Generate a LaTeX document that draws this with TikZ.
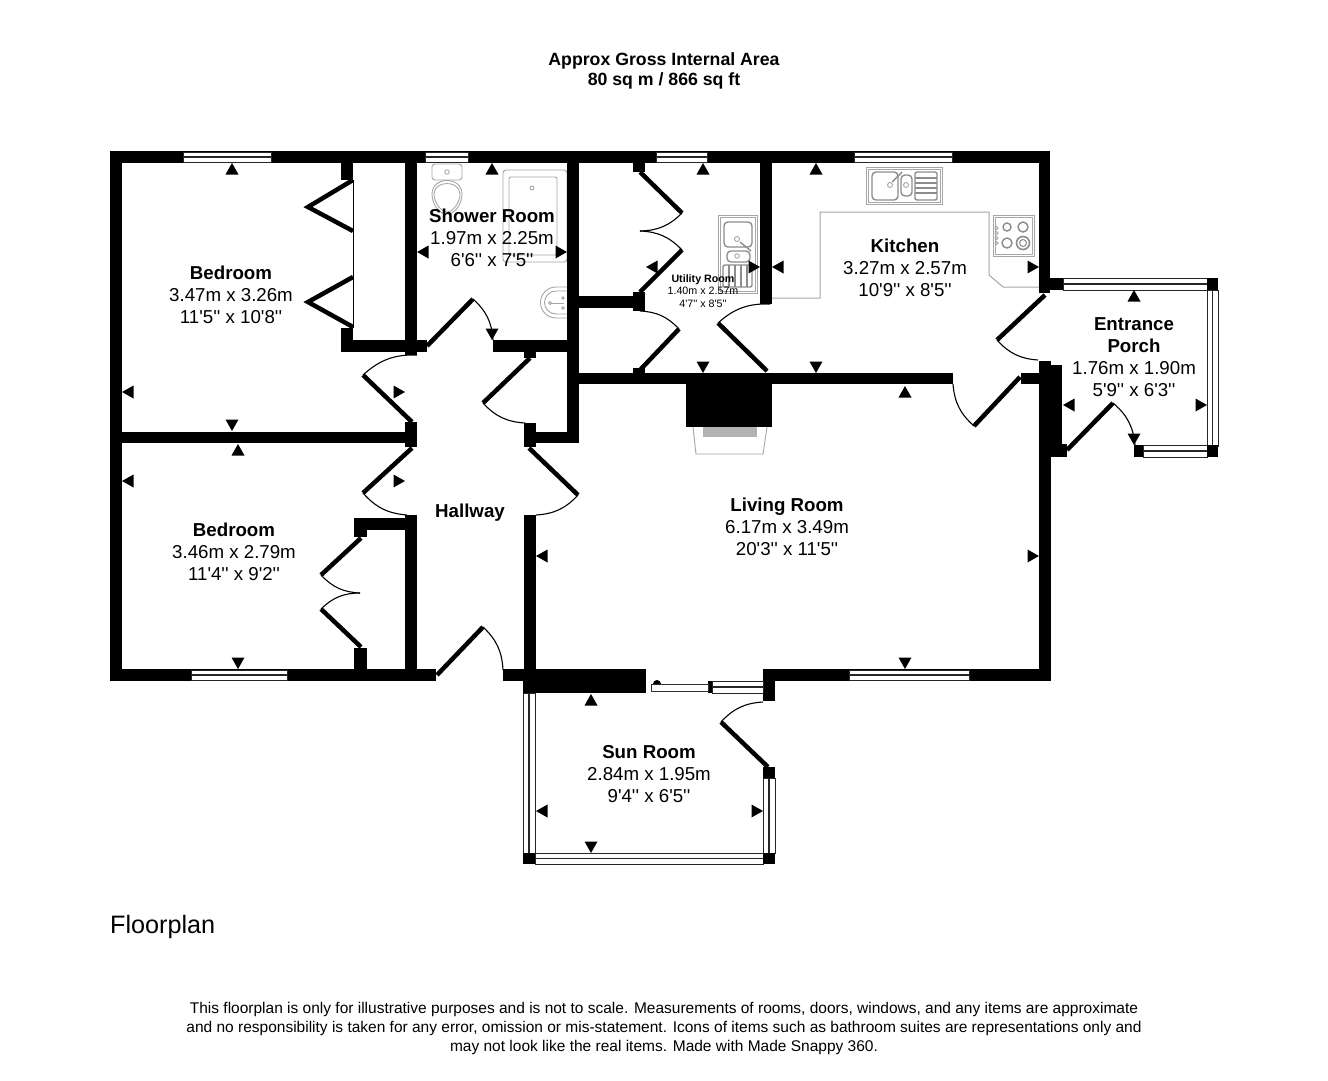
\documentclass[tikz,border=0pt]{standalone}
\usepackage{fontspec}
\setmainfont{Liberation Sans}[Ligatures=TeXOff]
\newcommand{\wl}[4]{\fill[black] (#1,#2) rectangle (#3,#4);}
\newcommand{\hwin}[4]{\draw[winbox] (#1,#2) rectangle (#3,#4);\draw[winmid] (#1,{(#2+#4)/2}) -- (#3,{(#2+#4)/2});}
\newcommand{\vwin}[4]{\draw[winbox] (#1,#2) rectangle (#3,#4);\draw[winmid] ({(#1+#3)/2},#2) -- ({(#1+#3)/2},#4);}
\newcommand{\tup}[2]{\fill[black] (#1,#2) -- ++(-6.5,11.5) -- ++(13,0) -- cycle;}
\newcommand{\tdn}[2]{\fill[black] (#1,#2) -- ++(-6.5,-11.5) -- ++(13,0) -- cycle;}
\newcommand{\tlf}[2]{\fill[black] (#1,#2) -- ++(11.5,-6.5) -- ++(0,13) -- cycle;}
\newcommand{\trt}[2]{\fill[black] (#1,#2) -- ++(-11.5,-6.5) -- ++(0,13) -- cycle;}
\tikzset{
  winbox/.style={draw=black!85,fill=white,line width=.9pt},
  winmid/.style={draw=black!85,line width=1.1pt},
  leaf/.style={draw=black,line width=4.5pt},
  swing/.style={draw=black,line width=1.1pt},
  fix/.style={draw=black!35,line width=.9pt},
  fixdk/.style={draw=black!45,line width=1.4pt},
  room/.style={align=center,inner sep=0pt,font=\fontsize{18.7}{22}\selectfont},
  roomsmall/.style={align=center,inner sep=0pt,font=\fontsize{10.7}{12.6}\selectfont},
  note/.style={align=center,inner sep=0pt,font=\fontsize{15.5}{19.2}\selectfont},
  head/.style={align=center,inner sep=0pt,font=\fontsize{17.7}{20}\selectfont\bfseries},
}
\begin{document}
\begin{tikzpicture}[x=1pt,y=-1pt]
\useasboundingbox (0,0) rectangle (1328,1080);
\fill[white] (0,0) rectangle (1328,1080);

% ---- fixtures ----
% toilet
\draw[fix,rounded corners=3pt] (432,164) rectangle (462,180);
\draw[fix] (447,172) circle (2.2);
\draw[fix] (432,194) .. controls (432,176) and (462,176) .. (462,194) .. controls (462,204) and (455,214) .. (447,214) .. controls (439,214) and (432,204) .. (432,194);
\draw[fix] (434,194) .. controls (434,180) and (460,180) .. (460,194) .. controls (460,202) and (453,212) .. (447,212) .. controls (441,212) and (434,202) .. (434,194);
% shower
\draw[fix,rounded corners=3pt] (503,170) rectangle (567,262);
\draw[fix,rounded corners=2pt] (509,177) rectangle (557,255);
\draw[fix] (532,188) circle (2);
% basin
\draw[fix] (567,287) -- (556,287) arc[start angle=270,end angle=90,radius=15.5] -- (567,318);
\draw[fix] (567,291) -- (556,291) arc[start angle=270,end angle=90,radius=11.5] -- (567,314);
\draw[fix] (550,303) circle (1.6);
\draw[fix] (552,303) -- (564,303);
\draw[fix] (563,298) circle (1.3);
\draw[fix] (563,308) circle (1.3);
% kitchen sink
\draw[fix] (866,167) rectangle (942,204);
\draw[fix] (868,169) rectangle (940,202);
\draw[fixdk,rounded corners=4pt] (872,172) rectangle (898,200);
\draw[fixdk,rounded corners=4pt] (901,175) rectangle (912,196);
\draw[fixdk,rounded corners=2pt] (915,172) rectangle (937,200);
\foreach \yy in {178,183,188,193}{\draw[fixdk] (915,\yy) -- (937,\yy);}
\draw[fix] (890,185) circle (2.5);
\draw[fixdk] (892,182) -- (902,172);
\draw[fix] (906,185) circle (2.5);
% counter
\draw[fix,line width=1pt] (772,298) -- (820,298) -- (820,212) -- (989,212) -- (989,275) -- (1003,287) -- (1039,287);
% hob
\draw[fix] (993,215) rectangle (1034,256);
\draw[fix] (995,217) rectangle (1032,254);
\draw[fixdk] (1007,227) circle (4);
\draw[fixdk] (1023,227) circle (5);
\draw[fixdk] (1007,243) circle (5);
\draw[fixdk,line width=1.6pt] (1023,243) circle (6.5);
\draw[fixdk,line width=1pt] (1023,243) circle (3.5);
\foreach \yy in {228,233,238,243}{\draw[fix] (996.5,\yy) circle (1.6);}
% utility sink
\draw[fix] (718,215) rectangle (757,293);
\draw[fix] (720,217) rectangle (755,291);
\draw[fixdk,rounded corners=4pt] (724,222) rectangle (752,247);
\draw[fixdk,rounded corners=4pt] (727,251) rectangle (750,262);
\draw[fixdk,rounded corners=2pt] (723,265) rectangle (752,287);
\foreach \xx in {729,735,741,747}{\draw[fixdk] (\xx,265) -- (\xx,287);}
\draw[fix] (737,239) circle (2.5);
\draw[fixdk] (740,242) -- (751,251);
\draw[fix] (737,256) circle (2.3);
% hearth
\draw[fix] (693,427) -- (696,454) -- (763,454) -- (767,427);
\fill[black!30] (703,427) rectangle (757,437);

% ---- walls ----
\wl{110}{151}{1050}{163}
\wl{110}{151}{122}{681}
\wl{110}{669}{436}{681}
\wl{122}{432}{417}{443}
\wl{405}{422}{417}{447}
\wl{405}{163}{417}{355}
\wl{341}{340}{427}{352}
\wl{341}{163}{353}{180}
\wl{341}{328}{353}{352}
\draw[black,line width=.8pt] (353,180) -- (353,328);
\wl{493}{340}{579}{352}
\wl{567}{163}{579}{443}
\wl{524}{352}{536}{358}
\wl{524}{423}{536}{447}
\wl{536}{432}{579}{443}
\wl{524}{515}{536}{693}
\wl{405}{515}{417}{669}
\wl{354}{518}{405}{530}
\wl{354}{518}{367}{537}
\wl{354}{648}{367}{669}
\wl{503}{669}{646}{681}
\wl{523}{681}{646}{693}
\wl{763}{669}{1051}{681}
\wl{763}{669}{775}{701}
\wl{760}{163}{772}{304}
\wl{633}{163}{645}{172}
\wl{579}{296}{645}{308}
\wl{633}{292}{645}{311}
\wl{633}{368}{645}{373}
\wl{579}{373}{953}{384}
\wl{686}{384}{772}{427}
\wl{1021}{373}{1039}{384}
\wl{1039}{151}{1050}{293}
\wl{1039}{361}{1051}{681}
\wl{1050}{278}{1063}{290}
\wl{1039}{365}{1062}{453}
\wl{1050}{444}{1067}{457}

% ---- windows ----
\hwin{183}{152}{271}{162}
\hwin{425}{152}{468}{162}
\hwin{656}{152}{707}{162}
\hwin{854}{152}{952}{162}
\hwin{191}{670}{287}{680}
\hwin{849}{670}{969}{680}
\hwin{1063}{278}{1207}{290}
\vwin{1207}{290}{1218}{446}
\hwin{1143}{445}{1207}{457}
\wl{1207}{278}{1218}{290}
\wl{1207}{445}{1218}{457}
\wl{1134}{445}{1143}{457}
\vwin{523}{693}{535}{853}
\hwin{535}{853}{763}{864}
\vwin{763}{778}{775}{853}
\wl{523}{853}{535}{864}
\wl{763}{853}{775}{864}
\wl{763}{767}{775}{778}
\hwin{712}{681}{763}{693}
\wl{708}{681}{712}{693}
\draw[black!80,fill=white,line width=.9pt] (651,684) rectangle (708,691);
\fill[black] (653,684) arc[start angle=180,end angle=360,radius=4] -- cycle;

% ---- door leaves ----
\draw[leaf] (427,346) -- (473,299);
\draw[swing] (473,299) to[bend left=22] (493,340);
\draw[leaf] (412,422) -- (363,375);
\draw[swing] (363,375) to[bend left=22] (417,355);
\draw[leaf] (412,448) -- (363,493);
\draw[swing] (407,515) to[bend left=22] (363,493);
\draw[leaf] (530,358) -- (483,403);
\draw[swing] (525,423) to[bend left=22] (483,403);
\draw[leaf] (529,448) -- (578,495);
\draw[swing] (578,495) to[bend left=22] (536,515);
\draw[leaf] (437,675) -- (483,627);
\draw[swing] (483,627) to[bend left=22] (503,670);
\draw[leaf] (361,538) -- (321,575);
\draw[swing] (360,593) to[bend left=22] (321,575);
\draw[leaf] (361,647) -- (321,609);
\draw[swing] (321,609) to[bend left=22] (360,593);
\draw[leaf,miter limit=4] (353,180) -- (308,207) -- (353,231);
\draw[leaf,miter limit=4] (353,277) -- (308,302) -- (353,327);
\draw[leaf] (640,172) -- (682,213);
\draw[swing] (682,213) to[bend left=22] (640,231);
\draw[leaf] (640,292) -- (682,250);
\draw[swing] (640,231) to[bend left=22] (682,250);
\draw[leaf] (640,370) -- (679,329);
\draw[swing] (640,311) to[bend left=22] (679,329);
\draw[leaf] (767,371) -- (718,323);
\draw[swing] (718,323) to[bend left=22] (770,304);
\draw[leaf] (1020,377) -- (974,426);
\draw[swing] (974,426) to[bend left=22] (953,384);
\draw[leaf] (1045,295) -- (997,340);
\draw[swing] (1038,360) to[bend left=22] (997,340);
\draw[leaf] (1067,450) -- (1113,403);
\draw[swing] (1113,403) to[bend left=22] (1135,445);
\draw[leaf] (768,767) -- (721,722);
\draw[swing] (721,722) to[bend left=22] (763,702);

% ---- measure marks ----
\tup{232}{163}\tup{492}{163}\tup{703}{163}\tup{816}{163}
\tup{905}{386}\tup{238}{444}\tup{1134}{290}\tup{591}{694}
\tdn{232}{431}\tdn{492}{340}\tdn{703}{373}\tdn{816}{373}
\tdn{905}{669}\tdn{238}{669}\tdn{591}{853}\tdn{1134}{445}
\tlf{122}{392}\tlf{122}{481}\tlf{417}{252}\tlf{646}{267}
\tlf{772}{267}\tlf{536}{556}\tlf{1063}{405}\tlf{536}{811}
\trt{405}{392}\trt{405}{481}\trt{567}{252}\trt{760}{267}
\trt{1039}{267}\trt{1039}{556}\trt{1207}{405}\trt{763}{811}

% ---- text ----
\node[head] (title) at (664,70.5) {Approx Gross Internal Area\\80 sq m / 866 sq ft};
\node[room] (bed1) at (231,295) {\textbf{Bedroom}\\3.47m x 3.26m\\11'5'' x 10'8''};
\node[room] (bed2) at (234,552) {\textbf{Bedroom}\\3.46m x 2.79m\\11'4'' x 9'2''};
\node[room] (shower) at (492,238) {\textbf{Shower Room}\\1.97m x 2.25m\\6'6'' x 7'5''};
\node[roomsmall] (util) at (703,291) {\textbf{Utility Room}\\1.40m x 2.57m\\4'7'' x 8'5''};
\node[room] (kitchen) at (905,268) {\textbf{Kitchen}\\3.27m x 2.57m\\10'9'' x 8'5''};
\node[room] (porch) at (1134,357) {\textbf{Entrance}\\\textbf{Porch}\\1.76m x 1.90m\\5'9'' x 6'3''};
\node[room] (hall) at (470,513) {\textbf{Hallway}};
\node[room] (living) at (787,527) {\textbf{Living Room}\\6.17m x 3.49m\\20'3'' x 11'5''};
\node[room] (sun) at (649,774) {\textbf{Sun Room}\\2.84m x 1.95m\\9'4'' x 6'5''};
\node[inner sep=0pt,anchor=west,font=\fontsize{25.2}{28}\selectfont] (plan) at (110,927) {Floorplan};
\node[note] (disc) at (664,1028.5) {This floorplan is only for illustrative purposes and is not to scale. Measurements of rooms, doors, windows, and any items are approximate\\and no responsibility is taken for any error, omission or mis-statement. Icons of items such as bathroom suites are representations only and\\may not look like the real items. Made with Made Snappy 360.};
\end{tikzpicture}
\end{document}
